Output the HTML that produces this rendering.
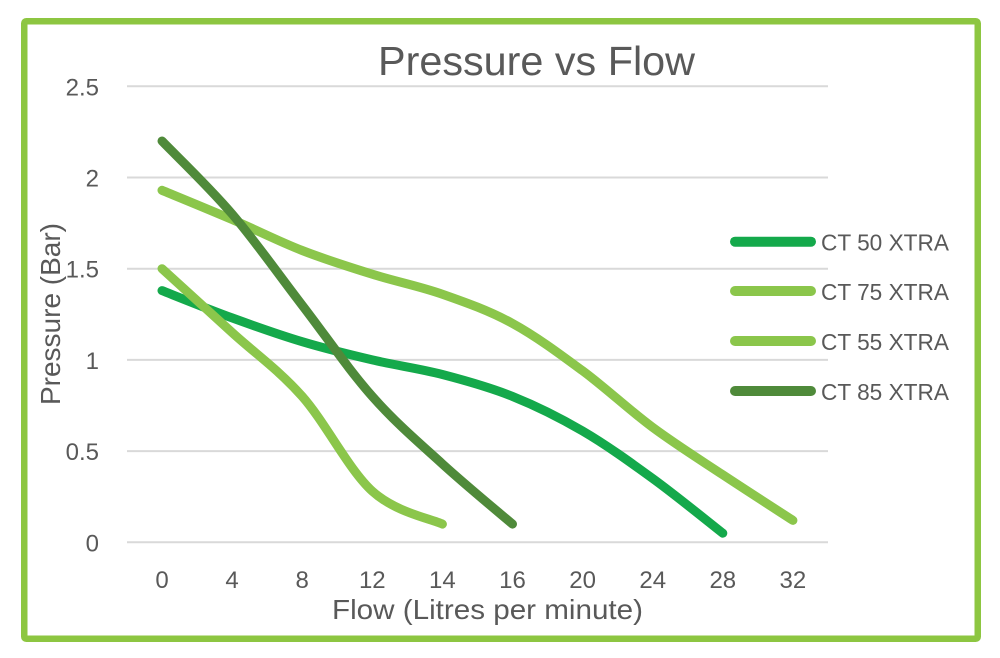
<!DOCTYPE html>
<html>
<head>
<meta charset="utf-8">
<style>
html,body{margin:0;padding:0;background:#fff;}
svg{display:block;}
text{font-family:"Liberation Sans",Arial,sans-serif;fill:#595959;}
</style>
</head>
<body>
<svg width="1000" height="658" viewBox="0 0 1000 658" xmlns="http://www.w3.org/2000/svg">
<rect x="0" y="0" width="1000" height="658" fill="#fff"/>
<rect x="24.25" y="21.25" width="953.5" height="617.5" fill="#fff" stroke="#8dc641" stroke-width="6.5" rx="2"/>

<text x="378" y="75" font-size="41" textLength="317" lengthAdjust="spacingAndGlyphs">Pressure vs Flow</text>

<g stroke="#d9d9d9" stroke-width="2">
<line x1="127" y1="86.3" x2="828" y2="86.3"/>
<line x1="127" y1="177.5" x2="828" y2="177.5"/>
<line x1="127" y1="268.7" x2="828" y2="268.7"/>
<line x1="127" y1="359.9" x2="828" y2="359.9"/>
<line x1="127" y1="451.1" x2="828" y2="451.1"/>
<line x1="127" y1="542.3" x2="828" y2="542.3"/>
</g>

<g font-size="24" text-anchor="end">
<text x="99" y="95.5">2.5</text>
<text x="99" y="186.5">2</text>
<text x="99" y="277.7">1.5</text>
<text x="99" y="369">1</text>
<text x="99" y="460">0.5</text>
<text x="99" y="551.3">0</text>
</g>

<g font-size="24" text-anchor="middle">
<text x="162" y="588">0</text>
<text x="232.1" y="588">4</text>
<text x="302.2" y="588">8</text>
<text x="372.3" y="588">12</text>
<text x="442.4" y="588">14</text>
<text x="512.5" y="588">16</text>
<text x="582.6" y="588">20</text>
<text x="652.7" y="588">24</text>
<text x="722.8" y="588">28</text>
<text x="792.9" y="588">32</text>
</g>

<text x="332" y="619" font-size="28" textLength="311" lengthAdjust="spacingAndGlyphs">Flow (Litres per minute)</text>
<text transform="translate(60,405) rotate(-90)" x="0" y="0" font-size="28" textLength="182" lengthAdjust="spacingAndGlyphs">Pressure (Bar)</text>

<g fill="none" stroke-width="9" stroke-linecap="round" stroke-linejoin="round">
<!-- CT 75 -->
<path stroke="#8bc64b" d="M162,190.3 C173.7,195.2 208.7,209.5 232.1,219.5 C255.5,229.5 278.8,241.4 302.2,250.5 C325.6,259.6 348.9,266.9 372.3,274.2 C395.7,281.5 419.0,286.0 442.4,294.2 C465.8,302.4 489.1,310.6 512.5,323.4 C535.9,336.2 559.2,353.5 582.6,370.8 C606.0,388.1 629.3,410.1 652.7,427.4 C676.1,444.7 699.4,459.3 722.8,474.8 C746.2,490.3 781.2,512.8 792.9,520.4"/>
<!-- CT 50 -->
<path stroke="#14a94b" d="M162,290.6 C173.7,295.2 208.7,309.4 232.1,317.9 C255.5,326.4 278.8,334.7 302.2,341.7 C325.6,348.7 348.9,354.4 372.3,359.9 C395.7,365.4 419.0,368.4 442.4,374.5 C465.8,380.6 489.1,387.0 512.5,396.4 C535.9,405.8 559.2,417.3 582.6,431.0 C606.0,444.7 629.3,461.5 652.7,478.5 C676.1,495.5 711.1,524.1 722.8,533.2"/>
<!-- CT 55 -->
<path stroke="#8bc64b" d="M162,268.7 C173.7,279.3 208.7,311.2 232.1,332.5 C255.5,353.8 278.8,370.0 302.2,396.4 C325.6,422.9 348.9,469.9 372.3,491.2 C395.7,512.5 430.7,518.6 442.4,524.1"/>
<!-- CT 85 -->
<path stroke="#4f8a3a" d="M162,141.0 C173.7,153.2 208.7,186.6 232.1,214.0 C255.5,241.4 278.8,274.8 302.2,305.2 C325.6,335.6 348.9,370.0 372.3,396.4 C395.7,422.9 419.0,442.6 442.4,463.9 C465.8,485.2 500.8,514.1 512.5,524.1"/>
</g>

<g stroke-width="10" stroke-linecap="round">
<line x1="735" y1="241.7" x2="811" y2="241.7" stroke="#14a94b"/>
<line x1="735" y1="291" x2="811" y2="291" stroke="#8bc64b"/>
<line x1="735" y1="341" x2="811" y2="341" stroke="#8bc64b"/>
<line x1="735" y1="391" x2="811" y2="391" stroke="#4f8a3a"/>
</g>
<g font-size="23.5">
<text x="821" y="250.5" textLength="128" lengthAdjust="spacingAndGlyphs">CT 50 XTRA</text>
<text x="821" y="299.8" textLength="128" lengthAdjust="spacingAndGlyphs">CT 75 XTRA</text>
<text x="821" y="349.8" textLength="128" lengthAdjust="spacingAndGlyphs">CT 55 XTRA</text>
<text x="821" y="399.8" textLength="128" lengthAdjust="spacingAndGlyphs">CT 85 XTRA</text>
</g>
</svg>
</body>
</html>
